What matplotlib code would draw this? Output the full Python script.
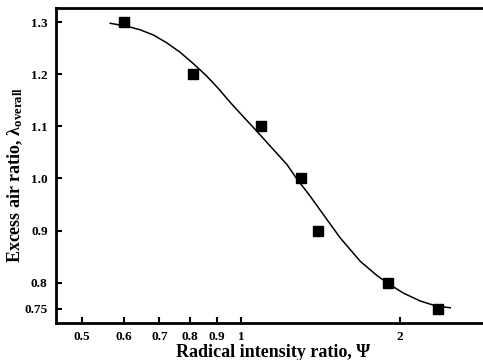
import matplotlib
matplotlib.use("Agg")
import matplotlib.pyplot as plt
from matplotlib.ticker import FixedLocator, FixedFormatter, NullLocator

plt.rcParams["font.family"] = ["Liberation Serif", "DejaVu Serif"]
plt.rcParams["font.weight"] = "bold"
plt.rcParams["mathtext.fontset"] = "custom"
plt.rcParams["mathtext.rm"] = "Liberation Serif:bold"
plt.rcParams["mathtext.it"] = "Liberation Serif:bold"

# measured points
psi = [0.60, 0.81, 1.09, 1.30, 1.40, 1.90, 2.36]
lam = [1.30, 1.20, 1.10, 1.00, 0.90, 0.80, 0.75]

# fitted curve
curve_psi = [0.565, 0.607, 0.644, 0.682, 0.723, 0.766, 0.812, 0.861, 0.906,
             0.953, 1.010, 1.063, 1.135, 1.220, 1.275, 1.351, 1.442, 1.540,
             1.681, 1.807, 1.901, 2.030, 2.183, 2.330, 2.488]
curve_lam = [1.2975, 1.292, 1.285, 1.275, 1.260, 1.242, 1.220, 1.196, 1.172,
             1.146, 1.118, 1.094, 1.062, 1.027, 0.999, 0.966, 0.926, 0.886,
             0.841, 0.814, 0.798, 0.780, 0.765, 0.756, 0.752]

xticks = [0.5, 0.6, 0.7, 0.8, 0.9, 1, 2]
xlabels = ["0.5", "0.6", "0.7", "0.8", "0.9", "1", "2"]
yticks = [0.75, 0.8, 0.9, 1.0, 1.1, 1.2, 1.3]
ylabels = ["0.75", "0.8", "0.9", "1.0", "1.1", "1.2", "1.3"]

fig = plt.figure(figsize=(4.83, 3.6), dpi=100)
ax = fig.add_axes([0.116, 0.103, 0.884, 0.875])

ax.plot(curve_psi, curve_lam, color="black", lw=1.1)
ax.plot(psi, lam, "s", color="black", ms=7.5)

ax.set_xscale("log")
ax.set_xlim(0.446, 2.87)
ax.set_ylim(0.723, 1.327)

ax.xaxis.set_major_locator(FixedLocator(xticks))
ax.xaxis.set_major_formatter(FixedFormatter(xlabels))
ax.xaxis.set_minor_locator(NullLocator())
ax.yaxis.set_major_locator(FixedLocator(yticks))
ax.yaxis.set_major_formatter(FixedFormatter(ylabels))

ax.tick_params(direction="in", length=4, width=1.5, labelsize=9.5, pad=6)
for side in ["left", "bottom", "top"]:
    ax.spines[side].set_linewidth(2)
ax.spines["right"].set_visible(False)

ax.set_xlabel("Radical intensity ratio, Ψ", fontsize=13, fontweight="bold")
ax.xaxis.set_label_coords(0.509, -0.066)
ax.set_ylabel(r"Excess air ratio, λ$_{\mathrm{overall}}$", fontsize=13, fontweight="bold")
ax.yaxis.set_label_coords(-0.072, 0.47)

fig.savefig("out.png", dpi=100)
